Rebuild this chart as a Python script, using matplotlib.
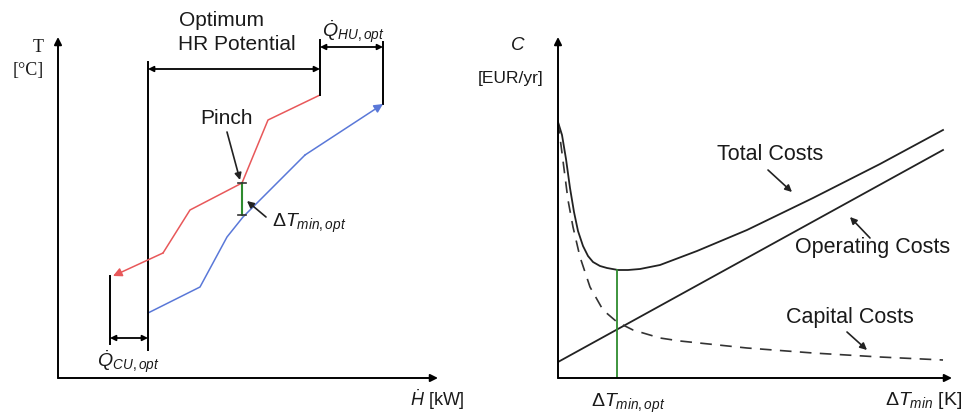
import matplotlib
matplotlib.use("Agg")
import matplotlib.pyplot as plt

plt.rcParams["font.family"] = ["Liberation Sans", "DejaVu Sans"]
plt.rcParams["mathtext.fontset"] = "custom"
plt.rcParams["mathtext.rm"] = "Liberation Sans"
plt.rcParams["mathtext.it"] = "Liberation Sans:italic"
plt.rcParams["mathtext.bf"] = "Liberation Sans:bold"

# ---- composite curves (enthalpy H, temperature T), arbitrary units ----
hot_H = [26.2, 21.0, 18.4, 13.2, 10.5, 5.5]
hot_T = [28.3, 25.8, 19.5, 16.8, 12.5, 10.2]
cold_H = [9.0, 14.2, 16.9, 18.5, 24.7, 32.5]
cold_T = [6.5, 9.1, 14.1, 16.1, 22.3, 27.4]
pinch_H = 18.4
pinch_T_hot = 19.5
pinch_T_cold = 16.3

# ---- cost curves versus dT_min ----
dt_total = [0.0, 0.4, 0.8, 1.2, 1.6, 2.0, 2.5, 3.0, 3.5, 4.2, 4.9, 6.0, 7.0,
            8.2, 10.2, 13.9, 18.9, 25.5, 32.2, 38.5]
c_total = [25.6, 24.3, 21.9, 19.0, 16.6, 14.7, 13.2, 12.2, 11.6, 11.2, 11.0, 10.8, 10.8,
           10.9, 11.3, 12.7, 14.8, 18.0, 21.4, 24.8]
dt_capital = [0.0, 0.4, 1.0, 1.5, 2.2, 3.2, 4.5, 5.9, 7.5, 10.2, 12.2, 18.9, 25.5, 32.2, 38.5]
c_capital = [25.6, 22.5, 17.8, 15.1, 12.1, 9.1, 6.8, 5.6, 4.8, 4.0, 3.7, 3.0, 2.5, 2.1, 1.8]
dt_operating = [0.0, 38.5]
c_operating = [1.6, 22.8]
dt_opt = 5.9
c_min = 10.8

W, H = 966, 415
fig = plt.figure(figsize=(W / 100, H / 100), dpi=100)
fig.patch.set_facecolor("white")

TXT = "#1a1a1a"
RED = "#e8585a"
BLUE = "#5a78d8"
GREEN = "#2e8b2e"


def make_axes(x0, x1, ytop, ybot, xmax, ymax):
    ax = fig.add_axes([x0 / W, (H - ybot) / H, (x1 - x0) / W, (ybot - ytop) / H])
    ax.set_xlim(0, xmax)
    ax.set_ylim(0, ymax)
    ax.axis("off")
    arrow = dict(arrowstyle="-|>", mutation_scale=11, lw=1.4, color="black",
                 shrinkA=0, shrinkB=0)
    ax.annotate("", xy=(1, 0), xytext=(0, 0), xycoords="axes fraction",
                arrowprops=arrow, annotation_clip=False)
    ax.annotate("", xy=(0, 1), xytext=(0, 0), xycoords="axes fraction",
                arrowprops=arrow, annotation_clip=False)
    return ax


def dim_arrow(ax, xa, xb, y):
    ax.annotate("", xy=(xb, y), xytext=(xa, y),
                arrowprops=dict(arrowstyle="<|-|>", mutation_scale=8, lw=1.3,
                                color="black", shrinkA=0, shrinkB=0),
                annotation_clip=False)


def pointer(ax, start, tip):
    ax.annotate("", xy=tip, xytext=start,
                arrowprops=dict(arrowstyle="-|>", mutation_scale=10, lw=1.2,
                                color="#222222", shrinkA=0, shrinkB=0),
                annotation_clip=False)


# ================= left: composite curves =================
axl = make_axes(58, 438, 37, 378, 38.0, 34.1)

axl.plot(hot_H[:-1], hot_T[:-1], color=RED, lw=1.1)
axl.annotate("", xy=(hot_H[-1], hot_T[-1]), xytext=(hot_H[-2], hot_T[-2]),
             arrowprops=dict(arrowstyle="-|>", mutation_scale=13, lw=1.1,
                             color=RED, shrinkA=0, shrinkB=0))
axl.plot(cold_H[:-1], cold_T[:-1], color=BLUE, lw=1.1)
axl.annotate("", xy=(cold_H[-1], cold_T[-1]), xytext=(cold_H[-2], cold_T[-2]),
             arrowprops=dict(arrowstyle="-|>", mutation_scale=13, lw=1.1,
                             color=BLUE, shrinkA=0, shrinkB=0))

# boundaries of heat recovery / utilities
axl.plot([cold_H[0], cold_H[0]], [2.8, 31.6], color="black", lw=1.4)
axl.plot([hot_H[0], hot_H[0]], [hot_T[0], 33.8], color="black", lw=1.4)
axl.plot([cold_H[-1], cold_H[-1]], [cold_T[-1], 33.6], color="black", lw=1.4)
axl.plot([hot_H[-1] - 0.3, hot_H[-1] - 0.3], [3.4, hot_T[-1]], color="black", lw=1.4)

dim_arrow(axl, cold_H[0], hot_H[0], 30.9)
dim_arrow(axl, hot_H[0], cold_H[-1], 33.1)
dim_arrow(axl, hot_H[-1] - 0.3, cold_H[0], 4.0)

# minimum temperature difference at the pinch
axl.plot([pinch_H, pinch_H], [pinch_T_cold, pinch_T_hot], color=GREEN, lw=1.5)
for t in (pinch_T_cold, pinch_T_hot):
    axl.plot([pinch_H - 0.4, pinch_H + 0.4], [t, t], color="#333333", lw=1.2)

axl.text(16.3, 35.8, "Optimum", ha="center", va="center", fontsize=15, color=TXT)
axl.text(17.9, 33.4, "HR Potential", ha="center", va="center", fontsize=15, color=TXT)
axl.text(29.5, 34.6, r"$\dot{Q}_{HU,opt}$", ha="center", va="center", fontsize=14, color=TXT)
axl.text(7.0, 1.6, r"$\dot{Q}_{CU,opt}$", ha="center", va="center", fontsize=14, color=TXT)
axl.text(16.9, 26.0, "Pinch", ha="center", va="center", fontsize=15, color=TXT)
pointer(axl, (16.9, 24.6), (18.2, 19.8))
axl.text(21.4, 15.5, r"$\Delta T_{min,opt}$", ha="left", va="center", fontsize=14, color=TXT)
pointer(axl, (20.8, 16.1), (18.9, 17.7))

axl.text(37.9, -2.2, r"$\dot{H}$ [kW]", ha="center", va="center", fontsize=13, color=TXT)
axl.text(-2.0, 33.1, "T", ha="center", va="center", fontsize=13, color=TXT,
         family="Liberation Serif")
axl.text(-3.0, 30.8, "[°C]", ha="center", va="center", fontsize=13, color=TXT,
         family="Liberation Serif")

# ================= right: cost curves =================
axr = make_axes(558, 952, 37, 378, 39.4, 34.1)

axr.plot(dt_total, c_total, color="#222222", lw=1.3, solid_joinstyle="round")
axr.plot(dt_operating, c_operating, color="#222222", lw=1.3)
axr.plot(dt_capital, c_capital, color="#333333", lw=1.2, dashes=(7, 5))
axr.plot([dt_opt, dt_opt], [0, c_min], color=GREEN, lw=1.3)

axr.text(21.2, 22.3, "Total Costs", ha="center", va="center", fontsize=15.5, color=TXT)
pointer(axr, (21.0, 20.8), (23.4, 18.6))
axr.text(31.5, 13.1, "Operating Costs", ha="center", va="center", fontsize=15.5, color=TXT)
pointer(axr, (31.2, 14.0), (29.2, 16.1))
axr.text(29.2, 6.1, "Capital Costs", ha="center", va="center", fontsize=15.5, color=TXT)
pointer(axr, (28.9, 4.6), (30.9, 2.8))

axr.text(7.0, -2.5, r"$\Delta T_{min,opt}$", ha="center", va="center", fontsize=14, color=TXT)
axr.text(36.6, -2.2, r"$\Delta T_{min}$ [K]", ha="center", va="center", fontsize=14, color=TXT)
axr.text(-4.0, 33.3, r"$C$", ha="center", va="center", fontsize=13.5, color=TXT)
axr.text(-4.7, 30.0, "[EUR/yr]", ha="center", va="center", fontsize=12.5, color=TXT)

fig.savefig("out.png", dpi=100, facecolor="white")
